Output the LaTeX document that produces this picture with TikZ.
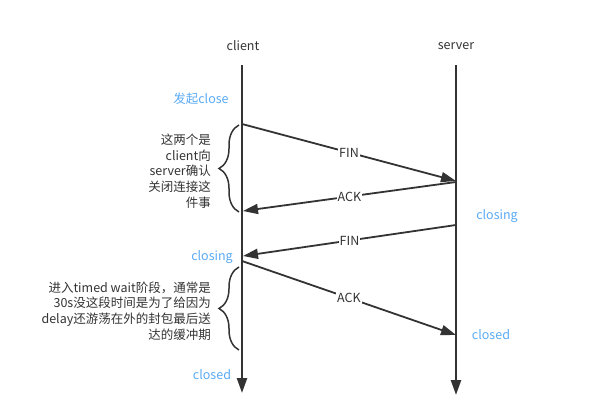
\documentclass[tikz,border=0pt]{standalone}
\usepackage{fontspec}
\setmainfont{Noto Sans CJK SC}
\usetikzlibrary{arrows.meta,decorations.pathreplacing}
\definecolor{ink}{HTML}{333333}
\definecolor{note}{HTML}{5AAAF5}
\tikzset{
  life/.style={ink,line width=2.4pt,-{Triangle[length=15pt,width=10pt]}},
  msg/.style={ink,line width=1.8pt,-{Triangle[length=15pt,width=10pt]}},
  tag/.style={fill=white,inner sep=1pt,text=ink,font=\fontsize{12.5}{15}\selectfont},
  state/.style={text=note,font=\fontsize{12.5}{15}\selectfont},
  remark/.style={anchor=east,align=right,text=ink,inner sep=0pt,font=\fontsize{12.5}{15.7}\selectfont},
  curly/.style={ink,line width=1.5pt,decorate,decoration={brace,amplitude=20pt}}
}
\begin{document}
\begin{tikzpicture}[x=1pt,y=-1pt]
\useasboundingbox (0,0) rectangle (602,420);
% lifelines
\node[text=ink,font=\fontsize{12.5}{15}\selectfont] (client) at (243,46) {client};
\node[text=ink,font=\fontsize{12.5}{15}\selectfont] (server) at (456,46) {server};
\coordinate (ctop) at (242,65); \coordinate (cbot) at (242,393);
\coordinate (stop) at (456,65); \coordinate (sbot) at (456,395);
\draw[life] (ctop)--(cbot); \draw[life] (stop)--(sbot);
% message points
\coordinate (c1) at (242,124); \coordinate (s1) at (456,181);
\coordinate (s2) at (456,182); \coordinate (c2) at (243,211);
\coordinate (s3) at (456,225); \coordinate (c3) at (243,256);
\coordinate (c4) at (242,261); \coordinate (s4) at (456,335);
\draw[msg] (c1)--node[tag] (fin1) {FIN} (s1);
\draw[msg] (s2)--node[tag] (ack1) {ACK} (c2);
\draw[msg] (s3)--node[tag] (fin2) {FIN} (c3);
\draw[msg] (c4)--node[tag] (ack2) {ACK} (s4);
% states
\node[state] (start) at (201,99) {发起close};
\node[state] (sclosing) at (497,216) {closing};
\node[state] (cclosing) at (212,257) {closing};
\node[state] (sclosed) at (491,335) {closed};
\node[state] (cclosed) at (212,375) {closed};
% notes
\coordinate (b1top) at (239,125); \coordinate (b1bot) at (239,212);
\coordinate (b2top) at (239,267); \coordinate (b2bot) at (239,350);
\draw[curly] (b1bot)--(b1top); \draw[curly] (b2bot)--(b2top);
\node[remark] (confirm) at (211,171) {这两个是\\client向\\server确认\\关闭连接这\\件事};
\node[remark] (wait) at (211,311) {进入timed wait阶段，通常是\\30s没这段时间是为了给因为\\delay还游荡在外的封包最后送\\达的缓冲期};
\end{tikzpicture}
\end{document}
